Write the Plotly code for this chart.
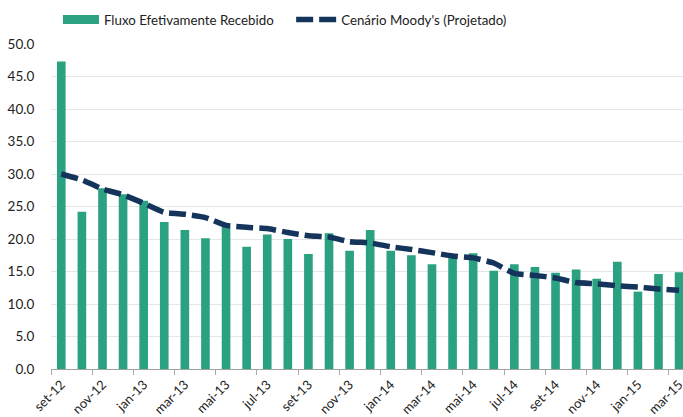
import plotly.graph_objects as go

months = ["set-12","out-12","nov-12","dez-12","jan-13","fev-13","mar-13","abr-13","mai-13","jun-13",
          "jul-13","ago-13","set-13","out-13","nov-13","dez-13","jan-14","fev-14","mar-14","abr-14",
          "mai-14","jun-14","jul-14","ago-14","set-14","out-14","nov-14","dez-14","jan-15","fev-15","mar-15"]

fluxo = [47.3, 24.2, 27.8, 26.9, 25.9, 22.6, 21.4, 20.1, 21.9, 18.8,
         20.7, 20.0, 17.7, 20.9, 18.2, 21.4, 18.2, 17.5, 16.1, 17.2,
         17.8, 15.1, 16.1, 15.7, 14.8, 15.3, 13.9, 16.5, 11.9, 14.6, 14.9]

moodys = [30.0, 29.1, 27.7, 26.8, 25.5, 24.1, 23.8, 23.3, 22.1, 21.8,
          21.6, 21.0, 20.5, 20.3, 19.6, 19.4, 18.8, 18.4, 17.9, 17.4,
          17.1, 16.3, 14.7, 14.4, 14.0, 13.3, 13.1, 12.8, 12.6, 12.3, 12.1]

y_ticks = [0, 5, 10, 15, 20, 25, 30, 35, 40, 45, 50]

x = list(range(len(months)))

BAR_COLOR = "#2aa282"
LINE_COLOR = "#15345b"

fig = go.Figure()
fig.add_trace(go.Bar(x=x, y=fluxo, name="Fluxo Efetivamente Recebido", showlegend=False,
                     marker=dict(color=BAR_COLOR, line=dict(width=0))))
# legend-only entry drawn as a wide swatch
fig.add_trace(go.Scatter(x=[None], y=[None], name="Fluxo Efetivamente Recebido", mode="lines",
                         line=dict(color=BAR_COLOR, width=9), legend="legend"))
fig.add_trace(go.Scatter(x=x, y=moodys, name="Cenário Moody's (Projetado)", mode="lines",
                         line=dict(color=LINE_COLOR, width=5.5, dash="17px,6px", shape="spline", smoothing=0.5),
                         legend="legend2"))

fig.update_layout(
    width=683, height=417,
    margin=dict(l=51, r=0, t=44, b=48, autoexpand=False),
    paper_bgcolor="white", plot_bgcolor="white",
    font=dict(family="Lato, 'Open Sans', sans-serif", size=13, color="#222"),
    bargap=0.58,
    showlegend=True,
    legend=dict(orientation="h", x=0.011, y=1.074, xanchor="left", yanchor="middle",
                font=dict(size=13.3, color="#222"), itemwidth=36, bgcolor="rgba(0,0,0,0)"),
    legend2=dict(orientation="h", x=0.380, y=1.074, xanchor="left", yanchor="middle",
                 font=dict(size=13.3, color="#222"), itemwidth=40, bgcolor="rgba(0,0,0,0)"),
    xaxis=dict(range=[-0.5, 30.19], tickmode="array", tickvals=x[::2], ticktext=months[::2],
               tickangle=-45, ticks="", showgrid=False, showline=True, linecolor="#a0a0a0",
               linewidth=1, zeroline=False, automargin=False, ticklabeloverflow="allow",
               ticklabelstandoff=2, tickfont=dict(size=13),
               minor=dict(ticks="outside", tick0=-0.5, dtick=2, ticklen=5, tickcolor="#a8a8a8",
                          tickwidth=1, showgrid=False)),
    yaxis=dict(range=[0, 50], tickmode="array", tickvals=y_ticks,
               ticktext=[f"{v:.1f}" for v in y_ticks], showgrid=True, gridcolor="#e6e6e6",
               gridwidth=1, zeroline=False, showline=False, ticks="outside", ticklen=13,
               tickcolor="rgba(0,0,0,0)", automargin=False, tickfont=dict(size=13.5)),
)

fig.write_html("out.html", config={"displayModeBar": False},
               post_script="document.body.style.margin='0';")
